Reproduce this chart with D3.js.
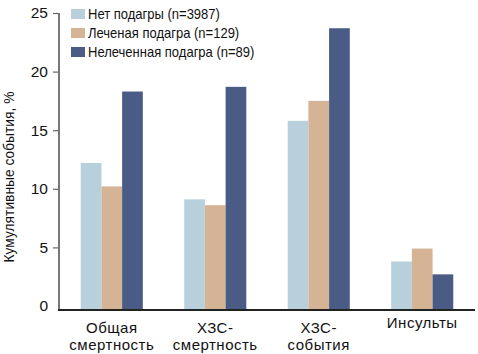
<!DOCTYPE html>
<html>
<head>
<meta charset="utf-8">
<script src="https://cdn.jsdelivr.net/npm/d3@7"></script>
<style>
  html, body { margin: 0; padding: 0; background: #fff; }
  svg { display: block; font-family: "Liberation Sans", Arial, sans-serif; }
</style>
</head>
<body>
<div id="chart"></div>
<script>
// categories (label lines)
const categories = [
    ["Общая", "смертность"],
    ["ХЗС-", "смертность"],
    ["ХЗС-", "события"],
    ["Инсульты"]
];

const seriesNames = [
    "Нет подагры (n=3987)",
    "Леченая подагра (n=129)",
    "Нелеченная подагра (n=89)"
];

const noGout = [12.2, 9.1, 15.8, 3.8];
const treatedGout = [10.2, 8.6, 17.5, 4.9];
const untreatedGout = [18.3, 18.7, 23.7, 2.7];

const yTicks = [0, 5, 10, 15, 20, 25];

const colors = ["#b8d0dc", "#d4b494", "#4a5b86"];

const W = 478, H = 354;
const left = 59, right = 475, baseY = 310;

const svg = d3.select("#chart").append("svg")
    .attr("width", W)
    .attr("height", H);

const keys = categories.map(c => c.join(" "));
const values = [noGout, treatedGout, untreatedGout];

const x0 = d3.scaleBand()
    .domain(keys)
    .range([left, right])
    .paddingInner(0.4)
    .paddingOuter(0.21);

const x1 = d3.scaleBand()
    .domain(d3.range(seriesNames.length))
    .range([0, x0.bandwidth()])
    .padding(0);

const y = d3.scaleLinear()
    .domain([0, 25])
    .range([306, 13]);

// bars (run down to the axis line)
keys.forEach((k, ci) => {
    values.forEach((vals, si) => {
        svg.append("rect")
            .attr("x", x0(k) + x1(si))
            .attr("y", y(vals[ci]))
            .attr("width", x1.bandwidth())
            .attr("height", baseY - y(vals[ci]))
            .attr("fill", colors[si]);
    });
});

// y axis
const yAxis = svg.append("g")
    .attr("transform", `translate(${left},0)`)
    .call(d3.axisLeft(y).tickValues(yTicks).tickSize(6).tickPadding(5));
yAxis.select(".domain").remove();
yAxis.selectAll(".tick line").attr("stroke", "#666").attr("stroke-width", 1.2);
yAxis.selectAll(".tick text")
    .attr("font-size", "15.5px")
    .attr("fill", "#111")
    .style("font-family", "inherit");
yAxis.selectAll(".tick").filter(d => d === 0).select("line").remove();

svg.append("line")
    .attr("x1", left).attr("x2", left)
    .attr("y1", y(25)).attr("y2", baseY)
    .attr("stroke", "#777")
    .attr("stroke-width", 2);

// x axis line
svg.append("line")
    .attr("x1", left - 1).attr("x2", right)
    .attr("y1", baseY).attr("y2", baseY)
    .attr("stroke", "#222")
    .attr("stroke-width", 2);

// category labels
categories.forEach((lines, ci) => {
    const cx = x0(keys[ci]) + x0.bandwidth() / 2;
    const t = svg.append("text")
        .attr("x", cx)
        .attr("text-anchor", "middle")
        .attr("font-size", "15px")
        .attr("letter-spacing", "0.5px")
        .attr("fill", "#111");
    lines.forEach((ln, li) => {
        t.append("tspan")
            .attr("x", cx)
            .attr("y", (lines.length > 1 ? 333 : 328) + li * 17)
            .text(ln);
    });
});

// y axis title
svg.append("text")
    .attr("transform", `translate(14,177) rotate(-90)`)
    .attr("text-anchor", "middle")
    .attr("font-size", "13.8px")
    .attr("fill", "#111")
    .text("Кумулятивные события, %");

// legend
const legend = svg.append("g").attr("transform", "translate(71,14)");
seriesNames.forEach((name, i) => {
    const g = legend.append("g").attr("transform", `translate(0,${i * 19})`);
    g.append("rect")
        .attr("x", 0).attr("y", -5)
        .attr("width", 14).attr("height", 10)
        .attr("fill", colors[i]);
    g.append("text")
        .attr("transform", "translate(17,0) scale(0.93,1)")
        .attr("dy", "0.35em")
        .attr("font-size", "14px")
        .attr("fill", "#111")
        .text(name);
});
</script>
</body>
</html>
